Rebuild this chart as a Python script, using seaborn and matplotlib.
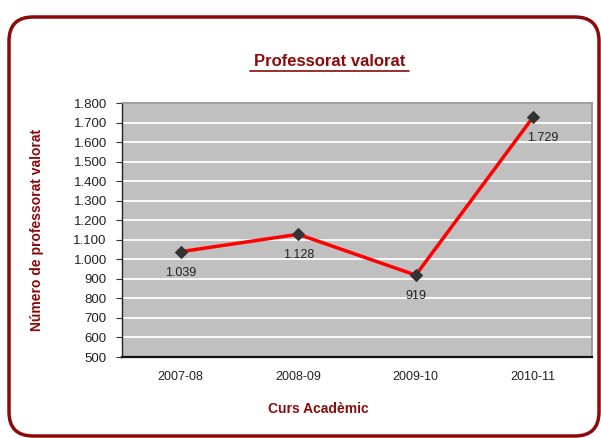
import matplotlib
matplotlib.use("Agg")
import matplotlib.pyplot as plt
from matplotlib.patches import FancyBboxPatch
from matplotlib.ticker import FuncFormatter, FixedLocator
import seaborn as sns
import pandas as pd

# data
cursos = ["2007-08", "2008-09", "2009-10", "2010-11"]
professorat = [1039, 1128, 919, 1729]
y_ticks = list(range(500, 1801, 100))

dark_red = "#8B0A0A"

sns.set_style("white")
plt.rcParams['font.family'] = ['Liberation Sans', 'DejaVu Sans']

df = pd.DataFrame({"curs": cursos, "valor": professorat})

fig = plt.figure(figsize=(6.01, 4.38), dpi=100)

# rounded frame around the whole chart
frame = FancyBboxPatch((9 / 601, 2 / 438), 590 / 601, 419 / 438,
                       boxstyle="round,pad=0,rounding_size=0.04",
                       mutation_aspect=601 / 438,
                       transform=fig.transFigure, fill=False,
                       edgecolor=dark_red, linewidth=2.5, clip_on=False)
fig.patches.append(frame)

ax = fig.add_axes([122 / 601, 1 - 357 / 438, 470 / 601, 254 / 438])
ax.set_facecolor("#C0C0C0")

sns.lineplot(data=df, x="curs", y="valor", ax=ax, color="#FF0000",
             linewidth=2.5, marker="D", markersize=6,
             markerfacecolor="#333333", markeredgecolor="#333333", zorder=3)

ax.set_xlim(-0.5, 3.5)
ax.set_ylim(500, 1800)
ax.yaxis.set_major_locator(FixedLocator(y_ticks))
ax.yaxis.set_major_formatter(FuncFormatter(lambda v, p: f"{int(v):,}".replace(",", ".")))
ax.grid(axis="y", color="white", linewidth=1.3)
ax.set_axisbelow(True)

# x ticks sit between categories
ax.set_xticks(range(len(cursos)))
ax.set_xticklabels(cursos)
ax.set_xticks([0.5, 1.5, 2.5], minor=True)
ax.tick_params(axis="x", which="major", length=0, pad=10, labelsize=9, labelcolor="#222222")
ax.tick_params(axis="x", which="minor", length=4, color="#333333", direction="out")
ax.tick_params(axis="y", length=4, width=0.8, color="#333333", direction="out",
               left=True, labelsize=9.5, labelcolor="#222222", pad=7)

for side in ["top", "right"]:
    ax.spines[side].set_color("#909090")
    ax.spines[side].set_linewidth(1.2)
ax.spines["bottom"].set_color("#111111")
ax.spines["bottom"].set_linewidth(1.6)
ax.spines["left"].set_color("#222222")
ax.spines["left"].set_linewidth(1.0)

# data labels
for i, v in enumerate(professorat):
    dx = 7 if i == len(professorat) - 1 else 0
    ax.annotate(f"{v:,}".replace(",", "."), (i, v), xytext=(dx, -15),
                textcoords="offset points", ha="center", va="center",
                fontsize=9, color="#222222")

ax.set_xlabel("")
ax.set_ylabel("")

fig.text(330 / 601, 1 - 61 / 438, "Professorat valorat", ha="center", va="center",
         fontsize=12, fontweight="bold", color=dark_red)
# underline of the title
fig.add_artist(plt.Line2D([250 / 601, 409 / 601], [1 - 71 / 438, 1 - 71 / 438],
                          color=dark_red, linewidth=1.2, transform=fig.transFigure))
fig.text(37 / 601, 1 - 230 / 438, "Número de professorat valorat", ha="center",
         va="center", rotation=90, fontsize=10, fontweight="bold", color=dark_red)
fig.text(318 / 601, 1 - 409 / 438, "Curs Acadèmic", ha="center", va="center",
         fontsize=10, fontweight="bold", color=dark_red)

plt.savefig("out.png", dpi=100)
plt.close()
